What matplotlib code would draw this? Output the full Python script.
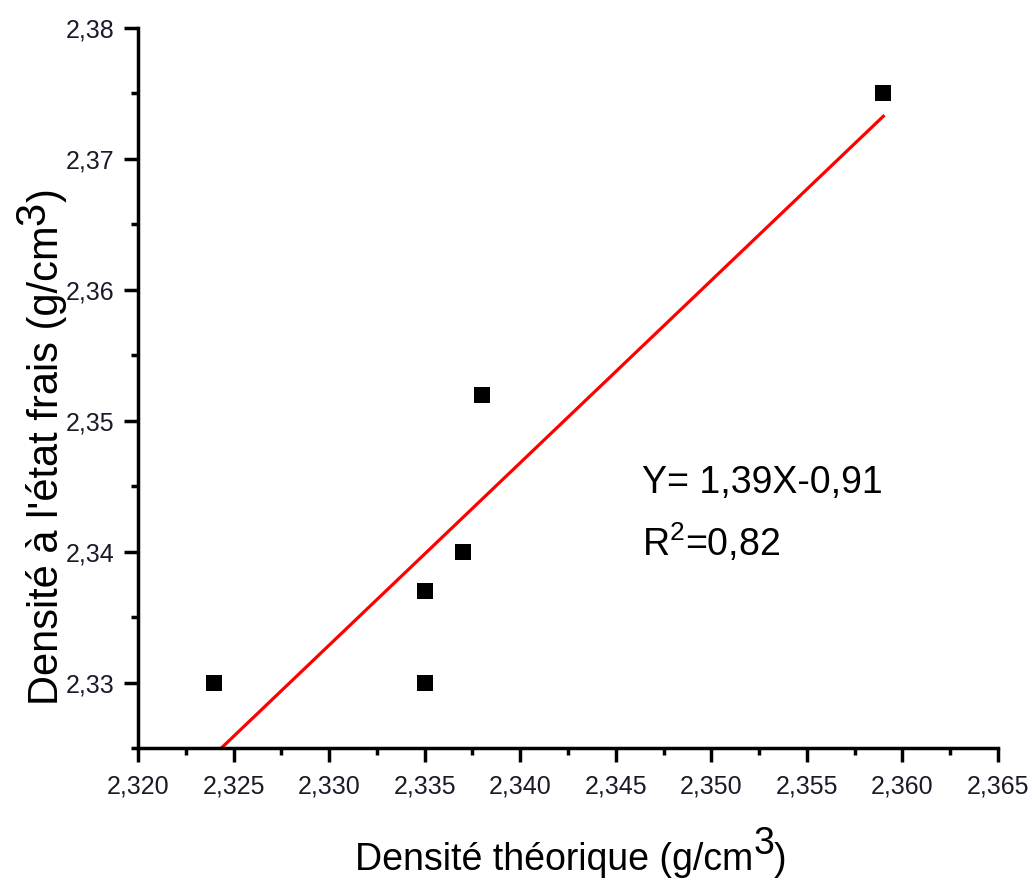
import numpy as np
import matplotlib
matplotlib.use("Agg")
import matplotlib.pyplot as plt
from matplotlib.ticker import MultipleLocator, FuncFormatter

plt.rcParams["font.family"] = ["Liberation Sans", "DejaVu Sans"]
plt.rcParams["mathtext.fontset"] = "custom"
plt.rcParams["mathtext.rm"] = "Liberation Sans"
plt.rcParams["mathtext.it"] = "Liberation Sans"

# Measured densities (g/cm3)
dens_theorique = [2.324, 2.335, 2.335, 2.337, 2.338, 2.359]
dens_frais = [2.330, 2.330, 2.337, 2.340, 2.352, 2.375]

eq_text = "Y= 1,39X-0,91"
r2_text = "R$^2$=0,82"
xlabel_parts = ("Densité théorique (g/cm", "3", ")")
ylabel_parts = ("Densité à l'état frais (g/cm", "3", ")")

W, H = 1032, 882
fig = plt.figure(figsize=(W / 100, H / 100), dpi=100)
ax = fig.add_axes([138 / W, 1 - 748 / H, (998 - 138) / W, (748 - 28) / H])

ax.scatter(dens_theorique, dens_frais, marker="s", s=125, color="black",
           zorder=3, linewidths=0)

slope, intercept = np.polyfit(dens_theorique, dens_frais, 1)
xfit = np.array([min(dens_theorique), max(dens_theorique)])
ax.plot(xfit, slope * xfit + intercept, color="#ff0000", lw=2.3, zorder=2)

ax.set_xlim(2.320, 2.365)
ax.set_ylim(2.325, 2.380)
ax.xaxis.set_major_locator(MultipleLocator(0.005))
ax.xaxis.set_minor_locator(MultipleLocator(0.0025))
ax.yaxis.set_major_locator(MultipleLocator(0.01))
ax.yaxis.set_minor_locator(MultipleLocator(0.005))
ax.xaxis.set_major_formatter(FuncFormatter(lambda v, p: f"{v:.3f}".replace(".", ",")))
ax.yaxis.set_major_formatter(FuncFormatter(lambda v, p: f"{v:.2f}".replace(".", ",")))

for s in ("top", "right"):
    ax.spines[s].set_visible(False)
for s in ("left", "bottom"):
    ax.spines[s].set_linewidth(2.5)
ax.tick_params(which="major", direction="out", length=10, width=2.5,
               labelsize=18, colors="black", labelcolor="#1a1a2a", pad=7)
ax.tick_params(which="minor", direction="out", length=5, width=2.5, colors="black")
ax.tick_params(axis="x", which="major", pad=9)

ax.text(2.34636, 2.34445, eq_text, fontsize=27, ha="left", va="baseline")
ax.text(2.34636, 2.3397, r2_text, fontsize=27, ha="left", va="baseline")


def compose(x, y, parts, size, raise_px, vertical=False):
    pre, sup, post = parts
    if not vertical:
        t1 = fig.text(x, y, pre, fontsize=size, ha="left", va="baseline")
        t2 = ax.annotate(sup, xy=(1, 0), xycoords=t1, xytext=(0, raise_px),
                         textcoords="offset pixels", fontsize=size,
                         ha="left", va="bottom", annotation_clip=False)
        ax.annotate(post, xy=(1, 0), xycoords=t2, xytext=(0, -raise_px),
                    textcoords="offset pixels", fontsize=size,
                    ha="left", va="bottom", annotation_clip=False)
    else:
        t1 = fig.text(x, y, pre, fontsize=size, rotation=90,
                      rotation_mode="anchor", ha="left", va="baseline")
        t2 = ax.annotate(sup, xy=(1, 1), xycoords=t1, xytext=(-raise_px, 0),
                         textcoords="offset pixels", fontsize=size, rotation=90,
                         ha="right", va="bottom", annotation_clip=False)
        ax.annotate(post, xy=(1, 1), xycoords=t2, xytext=(raise_px, 0),
                    textcoords="offset pixels", fontsize=size, rotation=90,
                    ha="right", va="bottom", annotation_clip=False)


compose(355 / W, 1 - 870 / H, xlabel_parts, 27, 16)
compose(58 / W, 1 - 705 / H, ylabel_parts, 30, 14, vertical=True)

fig.savefig("out.png", dpi=100, facecolor="white")
